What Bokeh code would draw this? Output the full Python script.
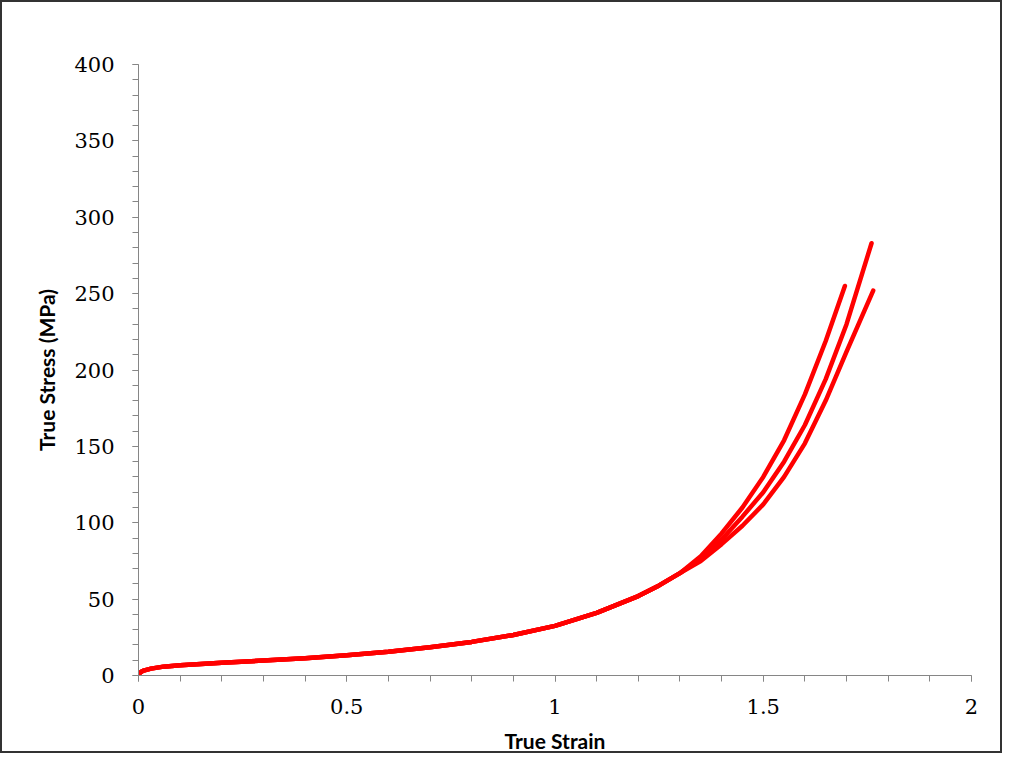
from bokeh.plotting import figure
from bokeh.embed import file_html
from bokeh.resources import INLINE
from bokeh.models import Range1d, FixedTicker

# ---- data ----
strain_common = [0.0, 0.01, 0.03, 0.06, 0.10, 0.15, 0.20, 0.30, 0.40, 0.50,
                 0.60, 0.70, 0.80, 0.90, 1.00, 1.10, 1.20, 1.25, 1.30]
stress_common = [1.0, 3.0, 4.5, 5.8, 6.7, 7.5, 8.3, 9.8, 11.3, 13.2,
                 15.5, 18.5, 22.0, 26.5, 32.5, 41.0, 52.0, 59.0, 67.0]

strain_tail_1 = [1.35, 1.40, 1.45, 1.50, 1.55, 1.60, 1.65, 1.696]
stress_tail_1 = [78, 93, 110, 130, 154, 184, 219, 255]

strain_tail_2 = [1.35, 1.40, 1.45, 1.50, 1.55, 1.60, 1.65, 1.70, 1.76]
stress_tail_2 = [76.5, 89, 104, 120, 140, 164, 194, 230, 283]

strain_tail_3 = [1.35, 1.40, 1.45, 1.50, 1.55, 1.60, 1.65, 1.70, 1.764]
stress_tail_3 = [75, 86, 98, 112, 130, 152, 180, 212, 252]

x_ticks = [0, 0.5, 1, 1.5, 2]
y_ticks = [0, 50, 100, 150, 200, 250, 300, 350, 400]

series = [
    (strain_common + strain_tail_1, stress_common + stress_tail_1),
    (strain_common + strain_tail_2, stress_common + stress_tail_2),
    (strain_common + strain_tail_3, stress_common + stress_tail_3),
]

p = figure(width=1002, height=753, output_backend="svg", toolbar_location=None,
           x_range=Range1d(0, 2), y_range=Range1d(0, 400),
           min_border_left=136, min_border_right=33, min_border_top=62, min_border_bottom=80)
p.styles = {"border": "2px solid #333333", "box-sizing": "border-box"}
p.outline_line_color = None
p.xgrid.visible = False
p.ygrid.visible = False

for xs, ys in series:
    p.line(xs, ys, line_color="#FF0000", line_width=4.5, line_cap="round", line_join="round")

axis_col = "#868686"
for ax in (p.xaxis[0], p.yaxis[0]):
    ax.axis_line_color = axis_col
    ax.major_tick_line_color = axis_col
    ax.minor_tick_line_color = axis_col
    ax.major_tick_out = 6
    ax.major_tick_in = 0
    ax.minor_tick_out = 6
    ax.minor_tick_in = 0
    ax.major_label_text_font = "DejaVu Serif"
    ax.major_label_text_font_size = "21px"
    ax.major_label_text_color = "#000000"
    ax.axis_label_text_font = "Lato"
    ax.axis_label_text_font_style = "bold"
    ax.axis_label_text_font_size = "21px"
    ax.axis_label_text_color = "#000000"

p.xaxis[0].ticker = FixedTicker(ticks=x_ticks, minor_ticks=[i / 10 for i in range(21)])
p.yaxis[0].ticker = FixedTicker(ticks=y_ticks, minor_ticks=list(range(0, 401, 10)))
p.xaxis[0].major_label_overrides = {0: "0", 0.5: "0.5", 1: "1", 1.5: "1.5", 2: "2"}
p.xaxis.axis_label = "True Strain"
p.yaxis.axis_label = "True Stress (MPa)"
p.xaxis[0].major_label_standoff = 17
p.yaxis[0].major_label_standoff = 18
p.xaxis[0].axis_label_standoff = 11
p.yaxis[0].axis_label_standoff = 12

open("out.html", "w").write(file_html(p, INLINE))
